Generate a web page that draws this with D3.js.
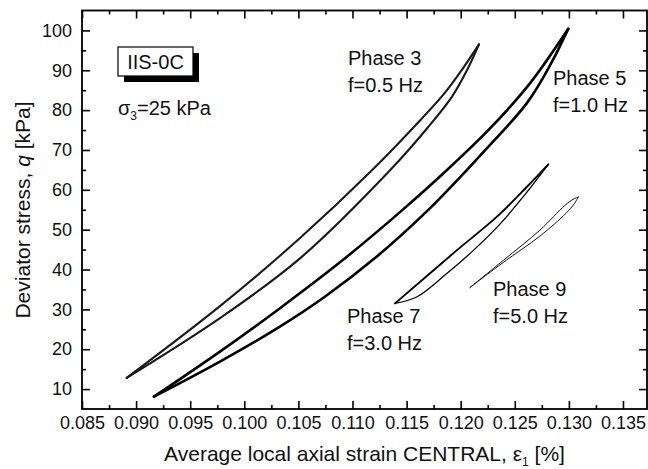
<!DOCTYPE html>
<html>
<head>
<meta charset="utf-8">
<script src="https://cdn.jsdelivr.net/npm/d3@7/dist/d3.min.js"></script>
<style>
  body { margin: 0; background: #fff; }
  svg { display: block; font-family: "Liberation Sans", Arial, sans-serif; }
</style>
</head>
<body>
<svg id="chart" width="648" height="469"></svg>
<script>
// ---------- data ----------
const xTicks = [0.085, 0.090, 0.095, 0.100, 0.105, 0.110, 0.115, 0.120, 0.125, 0.130, 0.135];
const yTicks = [10, 20, 30, 40, 50, 60, 70, 80, 90, 100];

// Phase 3, f = 0.5 Hz
const p3UpperStrain = [0.08913, 0.09775, 0.10515, 0.11180, 0.11624, 0.11855, 0.12021, 0.12169];
const p3UpperStress = [12.8, 30.8, 47.9, 64.9, 77.4, 84.4, 90.5, 96.5];
const p3LowerStrain = [0.08913, 0.09775, 0.10515, 0.11347, 0.11698, 0.11920, 0.12058, 0.12169];
const p3LowerStress = [12.8, 27.8, 42.8, 64.9, 75.7, 83.4, 90.0, 96.5];

// Phase 5, f = 1.0 Hz
const p5UpperStrain = [0.09165, 0.09775, 0.10330, 0.10884, 0.11439, 0.11871, 0.12271, 0.12640, 0.12994];
const p5UpperStress = [8.1, 19.4, 30.3, 41.8, 54.4, 64.9, 75.4, 86.7, 100.4];
const p5LowerStrain = [0.09165, 0.09775, 0.10325, 0.10741, 0.11222, 0.11679, 0.12054, 0.12224, 0.12610, 0.12825, 0.12994];
const p5LowerStress = [8.1, 16.9, 25.6, 33.1, 43.2, 54.4, 64.9, 69.9, 81.7, 91.2, 100.4];

// Phase 7, f = 3.0 Hz
const p7UpperStrain = [0.11393, 0.11963, 0.12333, 0.12610, 0.12810];
const p7UpperStress = [31.5, 44.8, 53.2, 60.7, 66.4];
const p7LowerStrain = [0.11393, 0.11593, 0.11855, 0.12117, 0.12363, 0.12567, 0.12810];
const p7LowerStress = [31.5, 33.1, 38.6, 44.8, 51.4, 57.9, 66.4];

// Phase 9, f = 5.0 Hz
const p9UpperStrain = [0.12086, 0.12394, 0.12733, 0.12964, 0.13038, 0.13087];
const p9UpperStress = [35.5, 42.3, 49.9, 56.1, 57.6, 58.2];
const p9LowerStrain = [0.12086, 0.12394, 0.12733, 0.12973, 0.13047, 0.13087];
const p9LowerStress = [35.5, 41.8, 48.4, 54.1, 56.4, 58.2];

// ---------- layout ----------
const svg = d3.select("#chart");
const L = 82, R = 647, T = 10.5, B = 409;
const x = d3.scaleLinear().domain([0.085, 0.13722]).range([L, R]);
const y = d3.scaleLinear().domain([5, 105]).range([B, T]);

const xMinor = d3.range(0, 10).map(i => 0.0875 + i * 0.005);
const yMinor = d3.range(0, 10).map(i => 15 + i * 10).filter(v => v < 105);

const fmtX = d3.format(".3f");

function styleAxis(g) {
  g.select(".domain").remove();
  g.selectAll(".tick line").attr("stroke", "#000").attr("stroke-width", 1.6);
  g.selectAll(".tick text").attr("fill", "#111").style("font-size", "18px")
    .style("font-family", "'Liberation Sans', Arial, sans-serif");
}

// bottom
svg.append("g").attr("transform", `translate(0,${B})`)
  .call(d3.axisBottom(x).tickValues(xTicks).tickFormat(fmtX).tickSize(-8).tickSizeOuter(0).tickPadding(7.5))
  .call(styleAxis);
svg.append("g").attr("transform", `translate(0,${B})`)
  .call(d3.axisBottom(x).tickValues(xMinor).tickFormat("").tickSize(-4).tickSizeOuter(0))
  .call(styleAxis);
// top
svg.append("g").attr("transform", `translate(0,${T})`)
  .call(d3.axisTop(x).tickValues(xTicks).tickFormat("").tickSize(-8).tickSizeOuter(0))
  .call(styleAxis);
svg.append("g").attr("transform", `translate(0,${T})`)
  .call(d3.axisTop(x).tickValues(xMinor).tickFormat("").tickSize(-4).tickSizeOuter(0))
  .call(styleAxis);
// left
svg.append("g").attr("transform", `translate(${L},0)`)
  .call(d3.axisLeft(y).tickValues(yTicks).tickSize(-8).tickSizeOuter(0).tickPadding(10))
  .call(styleAxis);
svg.append("g").attr("transform", `translate(${L},0)`)
  .call(d3.axisLeft(y).tickValues(yMinor).tickFormat("").tickSize(-4).tickSizeOuter(0))
  .call(styleAxis);
// right
svg.append("g").attr("transform", `translate(${R},0)`)
  .call(d3.axisRight(y).tickValues(yTicks).tickFormat("").tickSize(-8).tickSizeOuter(0))
  .call(styleAxis);
svg.append("g").attr("transform", `translate(${R},0)`)
  .call(d3.axisRight(y).tickValues(yMinor).tickFormat("").tickSize(-4).tickSizeOuter(0))
  .call(styleAxis);

// frame
svg.append("rect").attr("x", L).attr("y", T).attr("width", R - L).attr("height", B - T)
  .attr("fill", "none").attr("stroke", "#000").attr("stroke-width", 1.8);

// ---------- curves ----------
const line = d3.line().x(d => x(d[0])).y(d => y(d[1])).curve(d3.curveCatmullRom.alpha(0.5));
const zip = (a, b) => a.map((v, i) => [v, b[i]]);

const branches = [
  { s: p3UpperStrain, q: p3UpperStress, w: 2.1, c: "#1a1a1a" },
  { s: p3LowerStrain, q: p3LowerStress, w: 2.1, c: "#1a1a1a" },
  { s: p5UpperStrain, q: p5UpperStress, w: 2.6, c: "#000" },
  { s: p5LowerStrain, q: p5LowerStress, w: 2.6, c: "#000" },
  { s: p7UpperStrain, q: p7UpperStress, w: 1.9, c: "#000" },
  { s: p7LowerStrain, q: p7LowerStress, w: 1.3, c: "#000" },
  { s: p9UpperStrain, q: p9UpperStress, w: 1.0, c: "#111" },
  { s: p9LowerStrain, q: p9LowerStress, w: 1.0, c: "#111" }
];
svg.append("g").selectAll("path").data(branches).join("path")
  .attr("d", d => line(zip(d.s, d.q)))
  .attr("fill", "none").attr("stroke", d => d.c).attr("stroke-width", d => d.w)
  .attr("stroke-linejoin", "round").attr("stroke-linecap", "round");

// ---------- annotations ----------
const ann = svg.append("g").style("font-size", "20px").attr("fill", "#111");
function twoLine(px, py, a, b) {
  ann.append("text").attr("x", px).attr("y", py).text(a);
  ann.append("text").attr("x", px).attr("y", py + 27).text(b);
}
twoLine(348, 65, "Phase 3", "f=0.5 Hz");
twoLine(553, 84.5, "Phase 5", "f=1.0 Hz");
twoLine(347, 323, "Phase 7", "f=3.0 Hz");
twoLine(493, 296, "Phase 9", "f=5.0 Hz");

// IIS-0C box with shadow
svg.append("rect").attr("x", 124).attr("y", 53).attr("width", 75).attr("height", 29).attr("fill", "#000");
svg.append("rect").attr("x", 118).attr("y", 47).attr("width", 75).attr("height", 29)
  .attr("fill", "#fff").attr("stroke", "#000").attr("stroke-width", 1.2);
svg.append("text").attr("x", 155.5).attr("y", 68.5).attr("text-anchor", "middle")
  .style("font-size", "20px").attr("fill", "#111").text("IIS-0C");

// sigma_3
const sig = svg.append("text").attr("x", 118).attr("y", 115).style("font-size", "20px").attr("fill", "#111");
sig.append("tspan").text("σ");
sig.append("tspan").attr("dy", 5).style("font-size", "12px").text("3");
sig.append("tspan").attr("dy", -5).text("=25 kPa");

// axis titles
const xt = svg.append("text").attr("x", (L + R) / 2).attr("y", 461).attr("text-anchor", "middle")
  .style("font-size", "21px").attr("fill", "#111");
xt.append("tspan").text("Average local axial strain CENTRAL, ε");
xt.append("tspan").attr("dy", 5).style("font-size", "12px").text("1");
xt.append("tspan").attr("dy", -5).text(" [%]");

const yt = svg.append("text").attr("transform", "translate(30,210) rotate(-90)").attr("text-anchor", "middle")
  .style("font-size", "21px").attr("fill", "#111");
yt.append("tspan").text("Deviator stress, ");
yt.append("tspan").style("font-style", "italic").text("q");
yt.append("tspan").text(" [kPa]");
</script>
</body>
</html>
